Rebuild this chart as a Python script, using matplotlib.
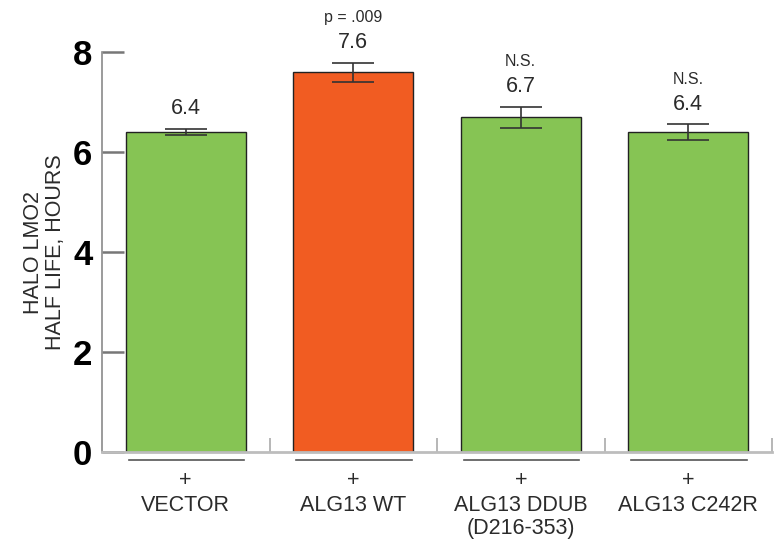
import matplotlib
matplotlib.use("Agg")
import matplotlib.pyplot as plt

plt.rcParams['font.family'] = ['Liberation Sans', 'DejaVu Sans']

# Data
categories = ["VECTOR", "ALG13 WT", "ALG13 DDUB\n(D216-353)", "ALG13 C242R"]
half_life = [6.4, 7.6, 6.7, 6.4]
errors = [0.06, 0.19, 0.21, 0.15]
value_labels = ["6.4", "7.6", "6.7", "6.4"]
stat_labels = ["", "p = .009", "N.S.", "N.S."]
colors = ["#86C454", "#F15C22", "#86C454", "#86C454"]
yticks = [0, 2, 4, 6, 8]

fig = plt.figure(figsize=(7.84, 5.45), dpi=100)
ax = fig.add_axes([102 / 784, 93 / 545, 670 / 784, 400 / 545])

x = list(range(len(categories)))
ax.bar(x, half_life, width=0.716, color=colors, edgecolor="#222222",
       linewidth=1.0, zorder=2)
ax.errorbar(x, half_life, yerr=errors, fmt="none", ecolor="#333333",
            elinewidth=1.2, capsize=15, capthick=1.2, zorder=3)

for i in x:
    top = half_life[i] + errors[i]
    ax.text(i, top + 0.29, value_labels[i], ha="center", va="baseline",
            fontsize=15.5, color="#2b2b2b")
    if stat_labels[i]:
        ax.text(i, top + 0.81, stat_labels[i], ha="center", va="baseline",
                fontsize=11.5, color="#2b2b2b")
    # underline + labels below the axis
    ax.plot([i - 0.34, i + 0.35], [-0.16, -0.16], color="#555555",
            linewidth=1.2, clip_on=False)
    ax.text(i, -0.57, "+", ha="center", va="center", fontsize=15.5,
            color="#2b2b2b")
    ax.text(i, -0.86, categories[i], ha="center", va="top", fontsize=15.5,
            color="#2b2b2b", linespacing=1.1)

ax.set_xlim(-0.5, 3.5)
ax.set_ylim(0, 8)

ax.spines["top"].set_visible(False)
ax.spines["right"].set_visible(False)
ax.spines["left"].set_color("#8a8a8a")
ax.spines["left"].set_linewidth(1.2)
ax.spines["bottom"].set_color("#bdbdbd")
ax.spines["bottom"].set_linewidth(2.0)

ax.set_yticks(yticks)
ax.set_yticklabels([str(t) for t in yticks], fontsize=25, fontweight="bold")
ax.tick_params(axis="y", direction="in", length=16, width=1.8,
               color="#777777", pad=7)

ax.set_xticks([0.5, 1.5, 2.5, 3.5])
ax.set_xticklabels([])
ax.tick_params(axis="x", direction="in", length=10, width=1.2,
               color="#aaaaaa")

ax.set_ylabel("HALO LMO2\nHALF LIFE, HOURS", fontsize=15.5, color="#2b2b2b",
              labelpad=5, linespacing=1.05)

fig.savefig("out.png", dpi=100)
